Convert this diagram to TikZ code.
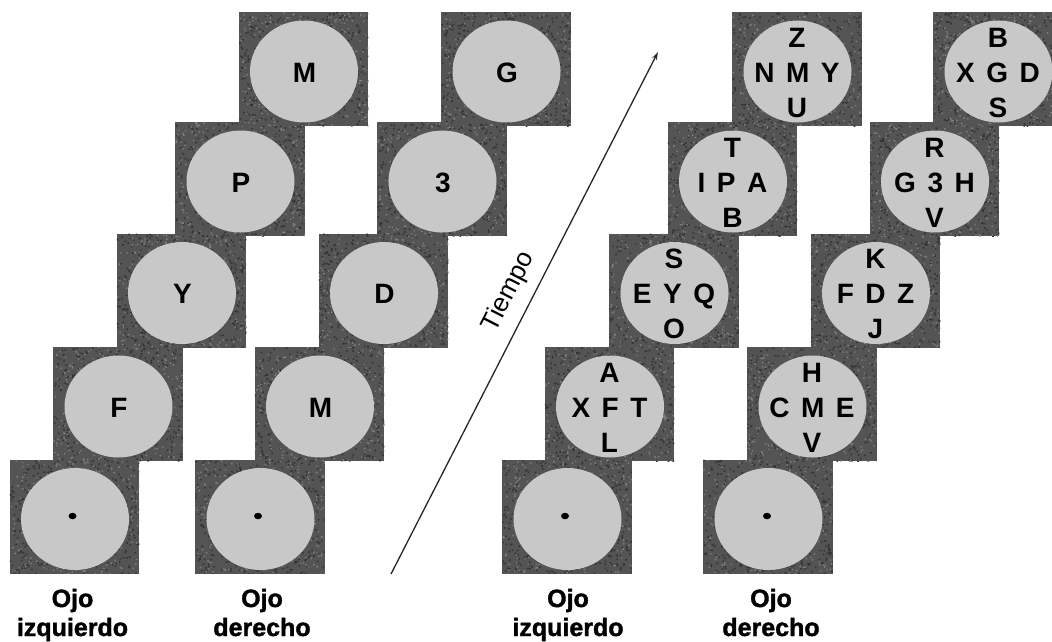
\documentclass[tikz,border=0pt]{standalone}
\usepackage{fontspec}
\setmainfont{Liberation Sans}
\newfontfamily\heavyfont{Liberation Sans}[BoldFeatures={FakeBold=1.5}]
\usetikzlibrary{shapes.geometric,arrows.meta}
\definecolor{sqgray}{RGB}{84,84,84}
\definecolor{speckdark}{RGB}{52,52,52}
\definecolor{specklight}{RGB}{128,128,128}
\definecolor{discgray}{RGB}{200,200,200}
\tikzset{
  sqbox/.style={rectangle, fill=sqgray, minimum width=129.5pt, minimum height=114pt, inner sep=0pt, draw=none},
  discst/.style={ellipse, fill=discgray, minimum width=108pt, minimum height=102pt, inner sep=0pt, draw=none},
  letter/.style={anchor=base, inner sep=0pt, font=\bfseries\fontsize{28}{28}\selectfont},
  eyelabel/.style={anchor=base, inner sep=0pt, font=\heavyfont\bfseries\fontsize{25}{25}\selectfont},
  fixdot/.style={ellipse, fill=black, minimum width=8pt, minimum height=6.5pt, inner sep=0pt},
  timearrow/.style={draw=black!85, line width=1.3pt, -{Stealth[length=8pt,width=5pt]}},
  timelabel/.style={font=\fontsize{26}{26}\selectfont, inner sep=0pt, rotate=62.9},
}
\newcommand\lgap{\hspace{0.41em}}
\newcommand\panel[3]{%
  \node[sqbox] (#1) at (#2,#3) {};
  \begin{scope}
    \clip (#2-64.75,#3-57) rectangle (#2+64.75,#3+57);
    \fill[speckdark] \foreach \i in {1,...,450}{(#2+rand*65,#3+rand*57) rectangle ++(1.6,1.6)};
    \fill[specklight] \foreach \i in {1,...,300}{(#2+rand*65,#3+rand*57) rectangle ++(1.4,1.4)};
  \end{scope}}
\newcommand\discat[3]{\node[discst] (#1) at (#2+0.5,#3+2.5) {};}
\newcommand\single[4]{\node[letter] (#1) at (#2+1,#3+13) {#4};}
\newcommand\crossletters[6]{%
  \node[letter] (#1t) at (#2,#3-22) {#4};
  \node[letter] (#1m) at (#2,#3+13) {#5};
  \node[letter] (#1b) at (#2,#3+48) {#6};}
\newcommand\fixat[3]{\node[fixdot] (#1) at (#2-2,#3) {};}
\begin{document}
\begin{tikzpicture}[x=1pt,y=-1pt]
\useasboundingbox (0,0) rectangle (1052,641);
\clip (0,0) rectangle (1052,641);
\pgfmathsetseed{7}
% ---- squares ----
\panel{a1}{74.5}{516.5}
\panel{a2}{118}{404}
\panel{a3}{181.5}{290.5}
\panel{a4}{240}{179}
\panel{a5}{303.5}{69}
\panel{b1}{260}{516.5}
\panel{b2}{319.5}{404}
\panel{b3}{383.5}{290.5}
\panel{b4}{442}{179}
\panel{b5}{506}{69}
\panel{c1}{567}{516.5}
\panel{c2}{609.5}{404}
\panel{c3}{674}{290.5}
\panel{c4}{732.5}{179}
\panel{c5}{797}{69}
\panel{d1}{768}{516.5}
\panel{d2}{812}{404}
\panel{d3}{875.5}{290.5}
\panel{d4}{934.5}{179}
\panel{d5}{998}{69}
% ---- discs ----
\discat{a1d}{74.5}{516.5}
\discat{a2d}{118}{404}
\discat{a3d}{181.5}{290.5}
\discat{a4d}{240}{179}
\discat{a5d}{303.5}{69}
\discat{b1d}{260}{516.5}
\discat{b2d}{319.5}{404}
\discat{b3d}{383.5}{290.5}
\discat{b4d}{442}{179}
\discat{b5d}{506}{69}
\discat{c1d}{567}{516.5}
\discat{c2d}{609.5}{404}
\discat{c3d}{674}{290.5}
\discat{c4d}{732.5}{179}
\discat{c5d}{797}{69}
\discat{d1d}{768}{516.5}
\discat{d2d}{812}{404}
\discat{d3d}{875.5}{290.5}
\discat{d4d}{934.5}{179}
\discat{d5d}{998}{69}
% ---- fixation dots ----
\fixat{a1f}{74.5}{516}
\fixat{b1f}{260}{516}
\fixat{c1f}{567}{516}
\fixat{d1f}{769}{516}
% ---- single letters ----
\single{a2l}{118}{404}{F}
\single{a3l}{181.5}{290.5}{Y}
\single{a4l}{240}{179}{P}
\single{a5l}{303.5}{69}{M}
\single{b2l}{319.5}{404}{M}
\single{b3l}{383.5}{290.5}{D}
\single{b4l}{442}{179}{3}
\single{b5l}{506}{69}{G}
% ---- letter crosses ----
\crossletters{c2l}{609.5}{404}{A}{X\lgap F\lgap T}{L}
\crossletters{c3l}{674}{290.5}{S}{E\lgap Y\lgap Q}{O}
\crossletters{c4l}{732.5}{179}{T}{I\lgap P\lgap A}{B}
\crossletters{c5l}{797}{69}{Z}{N\lgap M\lgap Y}{U}
\crossletters{d2l}{812}{404}{H}{C\lgap M\lgap E}{V}
\crossletters{d3l}{875.5}{290.5}{K}{F\lgap D\lgap Z}{J}
\crossletters{d4l}{934.5}{179}{R}{G\lgap 3\lgap H}{V}
\crossletters{d5l}{998}{69}{B}{X\lgap G\lgap D}{S}
% ---- time arrow ----
\coordinate (tstart) at (391,574);
\coordinate (tend) at (658,52);
\draw[timearrow] (tstart) -- (tend);
\node[timelabel] (tlabel) at (509,292) {Tiempo};
% ---- eye labels ----
\node[eyelabel] (la1) at (72.5,607) {Ojo};
\node[eyelabel] (la2) at (72.5,636) {izquierdo};
\node[eyelabel] (lb1) at (262,607) {Ojo};
\node[eyelabel] (lb2) at (262,636) {derecho};
\node[eyelabel] (lc1) at (568,607) {Ojo};
\node[eyelabel] (lc2) at (568,636) {izquierdo};
\node[eyelabel] (ld1) at (771,607) {Ojo};
\node[eyelabel] (ld2) at (771,636) {derecho};
\end{tikzpicture}
\end{document}
